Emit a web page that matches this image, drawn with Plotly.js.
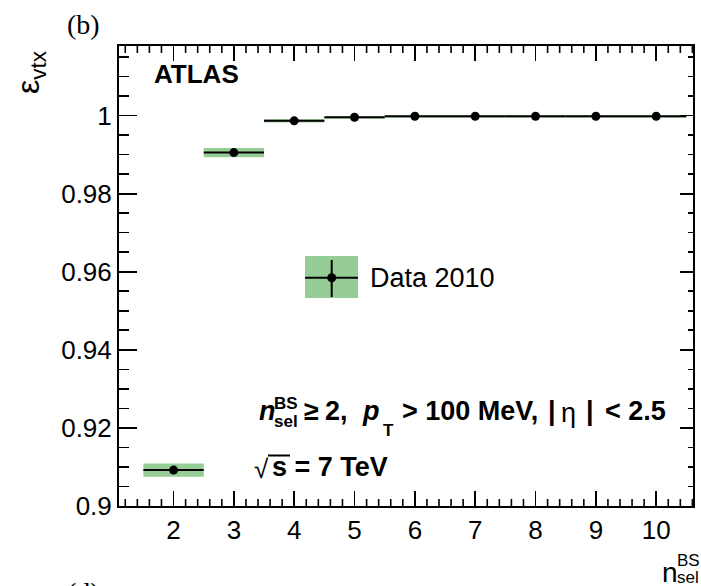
<!DOCTYPE html>
<html>
<head>
<meta charset="utf-8">
<script src="https://cdn.plot.ly/plotly-3.0.1.min.js"></script>
<style>html,body{margin:0;padding:0;background:#fff;}#chart{width:701px;height:586px;}</style>
</head>
<body>
<div id="chart"></div>
<script>
// ---- data ----
const nSel = [2, 3, 4, 5, 6, 7, 8, 9, 10];
const effVtx = [0.9092, 0.9905, 0.99864, 0.99956, 0.9998, 0.9998, 0.9998, 0.9998, 0.9998];
const sysDown = [0.0017, 0.0012, 0.0004, 0.0004, 0.0004, 0.0004, 0.0004, 0.0004, 0.0004];
const sysUp = [0.0017, 0.0012, 0.0004, 0.0002, 0.0002, 0.0002, 0.0002, 0.0002, 0.0002];
const binHalfWidth = [0.5, 0.5, 0.5, 0.5, 0.5, 0.5, 0.5, 0.5, 0.5];
const xTickVals = [2, 3, 4, 5, 6, 7, 8, 9, 10];
const yTickVals = [0.9, 0.92, 0.94, 0.96, 0.98, 1.0];
const yTickText = ['0.9', '0.92', '0.94', '0.96', '0.98', '1'];

// ---- geometry ----
const W = 701, H = 586;
const ML = 119, MR = 8, MT = 46, MB = 80;
const PW = W - ML - MR, PH = H - MT - MB;
const px = p => (p - ML) / PW;
const py = p => (H - MB - p) / PH;

const FONT = 'Liberation Sans, Arial, sans-serif';
const GREEN = 'rgb(150,205,150)';
const xRange = [1.096, 10.61];
const yRange = [0.9, 1.0178];

const bandBase = effVtx.map((v, i) => v - sysDown[i]);
const bandHeight = sysDown.map((d, i) => d + sysUp[i]);

const traces = [
  {
    type: 'bar', x: nSel, y: bandHeight, base: bandBase, width: 1,
    marker: {color: GREEN, line: {width: 0}}, hoverinfo: 'skip', showlegend: false
  },
  {
    type: 'scatter', mode: 'markers', x: nSel, y: effVtx,
    marker: {color: '#000', size: 9},
    error_x: {type: 'data', array: binHalfWidth, thickness: 2, width: 0, color: '#000'},
    showlegend: false
  },
  {type: 'scatter', x: [], y: [], yaxis: 'y2', showlegend: false}
];

function ann(text, xp, yp, size, opts) {
  return Object.assign({
    text: text, xref: 'paper', yref: 'paper', x: px(xp), y: py(yp),
    xanchor: 'left', yanchor: 'middle', showarrow: false,
    font: {family: FONT, size: size, color: '#000'}
  }, opts || {});
}

const annotations = [
  ann('<b>ATLAS</b>', 152, 74, 26),
  ann('Data 2010', 368, 278, 27),
  // selection text
  ann('<b><i>n</i></b>', 257, 411, 27),
  ann('<b>BS</b>', 272, 403, 17),
  ann('<b>sel</b>', 272, 421, 17),
  ann('<b>≥</b>', 302, 411, 27),
  ann('<b>2,</b>', 323, 411, 27),
  ann('<b><i>p</i></b>', 360, 411, 27),
  ann('<b>T</b>', 381, 430, 17),
  ann('<b>&gt; 100 MeV,</b>', 400, 411, 27),
  ann('<b>|</b>', 546, 411, 27),
  ann('η', 559, 413, 27),
  ann('<b>|</b>', 584, 411, 27),
  ann('<b>&lt; 2.5</b>', 603, 411, 27),
  ann('√', 252, 469, 26),
  ann('<b>s = 7 TeV</b>', 270, 467, 27),
  // panel labels
  ann('(b)', 83, 25, 28, {xanchor: 'center', font: {family: 'Liberation Serif, Times New Roman, serif', size: 28, color: '#000'}}),
  ann('(d)', 83, 592, 28, {xanchor: 'center', font: {family: 'Liberation Serif, Times New Roman, serif', size: 28, color: '#000'}}),
  // axis titles
  ann('ε<sub>vtx</sub>', 30, 73, 32, {xanchor: 'center', textangle: -90}),
  ann('n', 660, 572, 28),
  ann('BS', 675, 560, 17),
  ann('sel', 675, 577, 17)
];

const shapes = [
  {type: 'rect', xref: 'paper', yref: 'paper', x0: px(305), x1: px(358), y0: py(256), y1: py(298),
   fillcolor: GREEN, line: {width: 0}},
  {type: 'line', xref: 'paper', yref: 'paper', x0: px(305), x1: px(358), y0: py(277.7), y1: py(277.7),
   line: {color: '#000', width: 2}},
  {type: 'line', xref: 'paper', yref: 'paper', x0: px(331.7), x1: px(331.7), y0: py(260), y1: py(297),
   line: {color: '#000', width: 2}},
  {type: 'circle', xref: 'paper', yref: 'paper', x0: px(327.2), x1: px(336.2), y0: py(273.2), y1: py(282.2),
   fillcolor: '#000', line: {width: 0}},
  // overline of the square root
  {type: 'line', xref: 'paper', yref: 'paper', x0: px(268), x1: px(290), y0: py(455.5), y1: py(455.5),
   line: {color: '#000', width: 2}}
];

// minor ticks of the x axis (every 0.2), bottom and top, placed on the x scale
const minorLen = 7 / PH;
for (let k = Math.ceil(xRange[0] / 0.2); k * 0.2 <= xRange[1]; k++) {
  if (k % 5 === 0) continue;
  const xv = +(k * 0.2).toFixed(2);
  shapes.push({type: 'line', xref: 'x', yref: 'paper', x0: xv, x1: xv, y0: 0, y1: minorLen,
    line: {color: '#000', width: 1.6}, layer: 'above'});
  shapes.push({type: 'line', xref: 'x', yref: 'paper', x0: xv, x1: xv, y0: 1 - minorLen, y1: 1,
    line: {color: '#000', width: 1.6}, layer: 'above'});
}

const layout = {
  width: W, height: H,
  margin: {l: ML, r: MR, t: MT, b: MB, pad: 0},
  paper_bgcolor: '#fff', plot_bgcolor: '#fff',
  barmode: 'overlay', showlegend: false,
  font: {family: FONT, size: 26, color: '#000'},
  xaxis: {
    range: xRange, tickmode: 'array', tickvals: xTickVals,
    ticks: 'inside', ticklen: 15, tickwidth: 1.8, tickcolor: '#000',
    showline: true, linewidth: 2, linecolor: '#000', mirror: 'ticks',
    showgrid: false, zeroline: false,
    tickfont: {family: FONT, size: 26, color: '#000'}
  },
  yaxis: {
    range: yRange, tickmode: 'array', tickvals: yTickVals, ticktext: yTickText,
    ticks: 'inside', ticklen: 18, tickwidth: 1.8, tickcolor: '#000',
    minor: {tickmode: 'linear', dtick: 0.005, tick0: 0, ticks: 'inside', ticklen: 10, tickwidth: 1.6, tickcolor: '#000', showgrid: false},
    showline: true, linewidth: 2, linecolor: '#000', mirror: true,
    showgrid: false, zeroline: false,
    tickfont: {family: FONT, size: 26, color: '#000'}
  },
  yaxis2: {
    overlaying: 'y', side: 'right', range: yRange, tickmode: 'array', tickvals: yTickVals,
    ticks: 'inside', ticklen: 13, tickwidth: 1.8, tickcolor: '#000',
    minor: {tickmode: 'linear', dtick: 0.005, tick0: 0, ticks: 'inside', ticklen: 5, tickwidth: 1.6, tickcolor: '#000', showgrid: false},
    showticklabels: false, showline: false, showgrid: false, zeroline: false
  },
  annotations: annotations,
  shapes: shapes
};

Plotly.newPlot('chart', traces, layout, {staticPlot: true, displayModeBar: false});
</script>
</body>
</html>
